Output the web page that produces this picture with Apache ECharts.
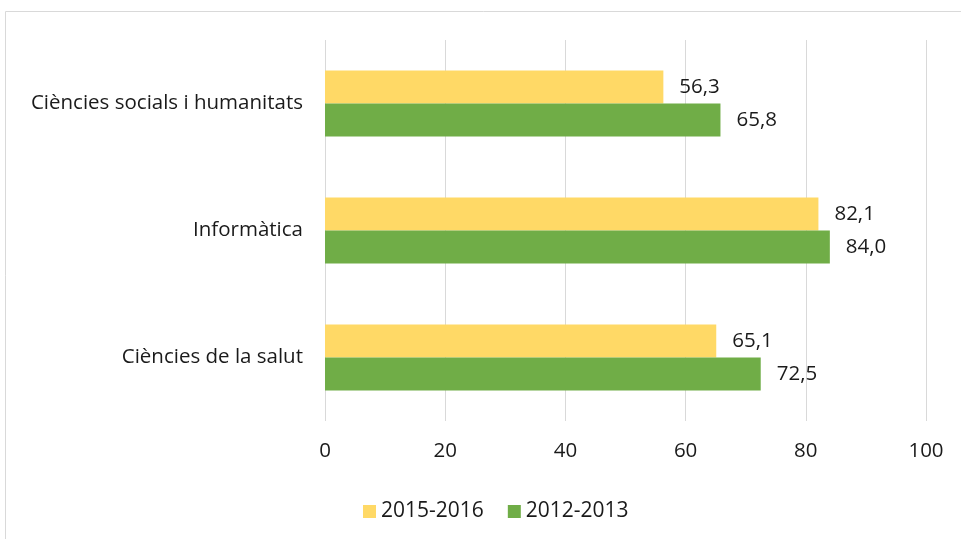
<!DOCTYPE html>
<html>
<head>
<meta charset="utf-8">
<script src="https://cdn.jsdelivr.net/npm/echarts@6/dist/echarts.min.js"></script>
<style>
  html, body { margin: 0; padding: 0; background: #fff; }
  #container { width: 961px; height: 539px; }
</style>
</head>
<body>
<div id="container"></div>
<script>
var categories = ["Ciències de la salut", "Informàtica", "Ciències socials i humanitats"];
var values2012 = [72.5, 84.0, 65.8];
var values2015 = [65.1, 82.1, 56.3];
var xTicks = [0, 20, 40, 60, 80, 100];

var dom = document.getElementById("container");
var myChart = echarts.init(dom, null, { renderer: "canvas" });

var font = "Open Sans";
var textColor = "#1a1a1a";
var labelFmt = function (p) {
  return p.value.toFixed(1).replace(".", ",");
};

var option = {
  animation: false,
  textStyle: { fontFamily: font },
  graphic: [
    {
      type: "rect",
      shape: { x: 5.5, y: 11.5, width: 1000, height: 600 },
      style: { fill: "none", stroke: "#d9d9d9", lineWidth: 1 },
    },
  ],
  legend: {
    data: ["2015-2016", "2012-2013"],
    top: 496,
    left: 358,
    icon: "rect",
    itemWidth: 13,
    itemHeight: 13,
    itemGap: 24,
    textStyle: { fontSize: 21, color: textColor, fontFamily: font, padding: [0, 0, 0, 0] },
  },
  grid: {
    left: 325,
    right: 35,
    top: 40,
    bottom: 118,
  },
  xAxis: {
    type: "value",
    min: xTicks[0],
    max: xTicks[xTicks.length - 1],
    interval: 20,
    axisLine: { show: false },
    axisTick: { show: false },
    axisLabel: { fontSize: 20.5, color: textColor, margin: 20, fontFamily: font },
    splitLine: { lineStyle: { color: "#d9d9d9", width: 1 } },
  },
  yAxis: {
    type: "category",
    data: categories,
    axisLine: { show: false },
    axisTick: { show: false },
    axisLabel: { fontSize: 20.5, color: textColor, margin: 22, fontFamily: font },
  },
  series: [
    {
      name: "2015-2016",
      type: "bar",
      data: values2015,
      barGap: "0%",
      barCategoryGap: "48%",
      itemStyle: { color: "#FFD966" },
      label: {
        show: true,
        position: "right",
        distance: 16,
        fontSize: 20.5,
        color: textColor,
        fontFamily: font,
        formatter: labelFmt,
      },
    },
    {
      name: "2012-2013",
      type: "bar",
      data: values2012,
      barGap: "0%",
      barCategoryGap: "48%",
      itemStyle: { color: "#70AD47" },
      label: {
        show: true,
        position: "right",
        distance: 16,
        fontSize: 20.5,
        color: textColor,
        fontFamily: font,
        formatter: labelFmt,
      },
    },
  ],
};

myChart.setOption(option);
window.addEventListener("resize", myChart.resize);
</script>
</body>
</html>
